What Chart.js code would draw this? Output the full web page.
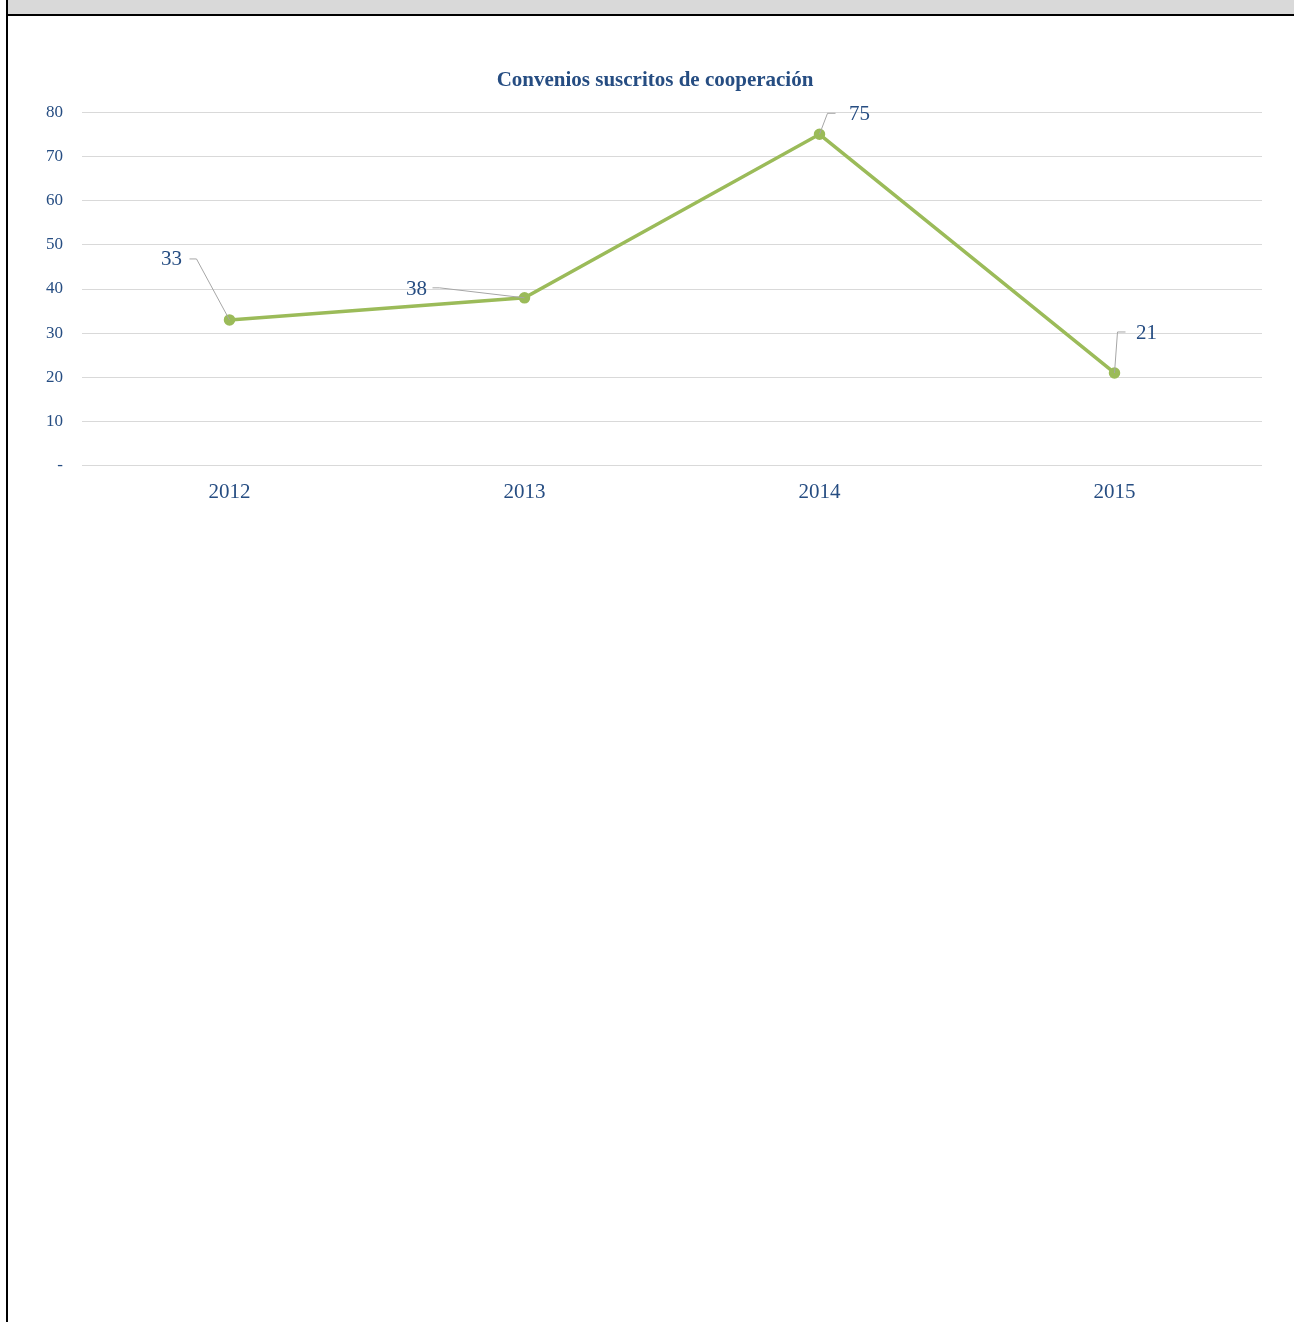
<!DOCTYPE html>
<html>
<head>
<meta charset="utf-8">
<style>
  html, body { margin: 0; padding: 0; background: #fff; }
  body { width: 1294px; height: 1322px; position: relative; overflow: hidden; }
  #marco { position: absolute; left: 6px; top: 0; width: 1300px; height: 1322px; border-left: 2px solid #000; }
  #barra { position: absolute; left: 8px; top: 0; width: 1300px; height: 14px; background: #d9d9d9; border-bottom: 2px solid #000; }
  #grafico { position: absolute; left: 0; top: 20px; width: 1294px; height: 517px; }
</style>
</head>
<body>
<div id="marco"></div>
<div id="barra"></div>
<div id="grafico"><canvas id="lineChart"></canvas></div>

<script src="https://cdn.jsdelivr.net/npm/chart.js"></script>
<script>
    // Datos del gráfico
    var anios = ["2012", "2013", "2014", "2015"];
    var convenios = [33, 38, 75, 21];
    var marcasEje = [0, 10, 20, 30, 40, 50, 60, 70, 80];

    var azul = '#264d82';
    var verde = '#9bbb59';

    // Desplazamiento de cada etiqueta respecto a su punto (label, codo, fin de la guía)
    var etiquetas = [
        {dx: -58, dy: -60, cx: -33, cy: -61, ex: -40},
        {dx: -108, dy: -8, cx: -85, cy: -10, ex: -92},
        {dx: 40, dy: -20, cx: 8, cy: -21, ex: 16},
        {dx: 32, dy: -39, cx: 3, cy: -41, ex: 11}
    ];

    // Plugin para las etiquetas con líneas guía
    var etiquetasPlugin = {
        id: 'etiquetas',
        afterLayout: function (chart) {
            // el título se centra un poco a la derecha, como en el original
            if (chart.titleBlock) { chart.titleBlock.left += 48; }
        },
        afterDatasetsDraw: function (chart) {
            var ctx = chart.ctx;
            var meta = chart.getDatasetMeta(0);
            ctx.save();
            meta.data.forEach(function (pt, i) {
                var e = etiquetas[i];
                ctx.strokeStyle = '#a6a6a6';
                ctx.lineWidth = 1;
                ctx.beginPath();
                ctx.moveTo(pt.x, pt.y);
                ctx.lineTo(pt.x + e.cx, pt.y + e.cy);
                ctx.lineTo(pt.x + e.ex, pt.y + e.cy);
                ctx.stroke();
                ctx.fillStyle = azul;
                ctx.font = '21px "Liberation Serif"';
                ctx.textAlign = 'center';
                ctx.textBaseline = 'middle';
                ctx.fillText(String(convenios[i]), pt.x + e.dx, pt.y + e.dy);
            });
            ctx.restore();
        }
    };

    var data = {
        labels: anios,
        datasets: [{
            label: "Convenios",
            data: convenios,
            borderColor: verde,
            backgroundColor: verde,
            borderWidth: 3.5,
            pointRadius: 4,
            pointHoverRadius: 4,
            tension: 0
        }]
    };

    var options = {
        responsive: true,
        maintainAspectRatio: false,
        animation: false,
        layout: { padding: { left: 0, right: 32, top: 0, bottom: 18 } },
        plugins: {
            legend: { display: false },
            tooltip: { enabled: false },
            title: {
                display: true,
                text: 'Convenios suscritos de cooperación',
                color: azul,
                font: { family: '"Liberation Serif"', size: 21, weight: 'bold' },
                padding: { top: 48, bottom: 19 }
            }
        },
        scales: {
            x: {
                offset: true,
                grid: { display: false, drawTicks: false },
                border: { display: false },
                ticks: {
                    color: azul,
                    padding: 14,
                    font: { family: '"Liberation Serif"', size: 21 }
                }
            },
            y: {
                min: 0,
                max: 80,
                afterFit: function (scale) { scale.width = 82; },
                afterBuildTicks: function (scale) {
                    scale.ticks = marcasEje.map(function (v) { return {value: v}; });
                },
                grid: { color: '#d9d9d9', lineWidth: 1, drawTicks: false },
                border: { display: false },
                ticks: {
                    color: azul,
                    padding: 19,
                    font: { family: '"Liberation Serif"', size: 17 },
                    callback: function (v) { return v === 0 ? '-' : v; }
                }
            }
        }
    };

    var ctx = document.getElementById('lineChart').getContext('2d');
    var myLineChart = new Chart(ctx, {type: 'line', data: data, options: options, plugins: [etiquetasPlugin]});
</script>
</body>
</html>
